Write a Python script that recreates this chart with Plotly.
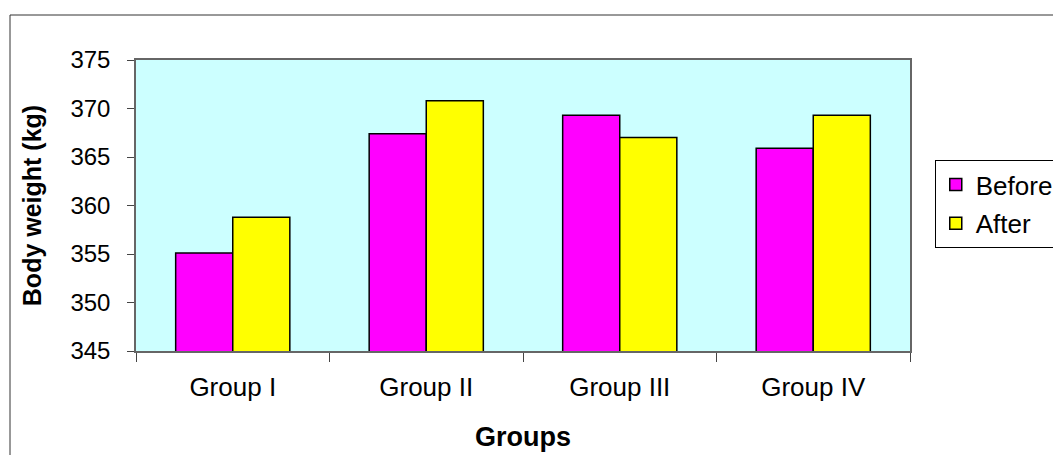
import plotly.graph_objects as go

groups = ["Group I", "Group II", "Group III", "Group IV"]
before = [355.1, 367.4, 369.3, 365.9]
after = [358.8, 370.8, 367.0, 369.3]

font_family = "Liberation Sans, Arial, sans-serif"

fig = go.Figure()
fig.add_trace(go.Bar(x=groups, y=before, name="Before", legendgroup="b",
                     marker=dict(color="#FF00FF", line=dict(color="black", width=1.5))))
fig.add_trace(go.Bar(x=groups, y=after, name="After", legendgroup="a",
                     marker=dict(color="#FFFF00", line=dict(color="black", width=1.5))))

fig.update_layout(
    width=1053, height=455,
    margin=dict(l=136, r=143, t=60, b=104, autoexpand=False),
    paper_bgcolor="white",
    plot_bgcolor="#CCFFFF",
    barmode="group",
    bargap=0.41,
    bargroupgap=0,
    font=dict(family=font_family, color="black", size=24),
    legend=dict(x=1.032, y=0.656, xanchor="left", yanchor="top",
                bgcolor="white", bordercolor="black", borderwidth=1,
                font=dict(size=26), itemwidth=30,
                tracegroupgap=2),
    showlegend=True,
)

fig.update_yaxes(
    range=[345, 375], dtick=5, tick0=345,
    showgrid=False, zeroline=False,
    showline=True, linecolor="#666666", linewidth=1.5, mirror=True,
    ticks="outside", ticklen=7, tickcolor="#444444",
    ticklabelstandoff=12,
    tickfont=dict(size=24),
    title=dict(text="<b>Body weight (kg)</b>", font=dict(size=25), standoff=22),
)
fig.update_xaxes(
    showgrid=False,
    showline=True, linecolor="#666666", linewidth=1.5, mirror=True,
    ticks="outside", ticklen=9, tickcolor="#444444", tickson="boundaries",
    ticklabelstandoff=12,
    tickfont=dict(size=26),
    title=dict(text="<b>Groups</b>", font=dict(size=27), standoff=26),
)

# outer chart frame
fig.add_shape(type="rect", xref="paper", yref="paper",
              x0=(10 - 136) / 774, x1=1.4, y0=-0.5, y1=(351 - 15) / 291,
              line=dict(color="#333333", width=1), fillcolor="rgba(0,0,0,0)",
              layer="below")

fig.write_html("out.html")
